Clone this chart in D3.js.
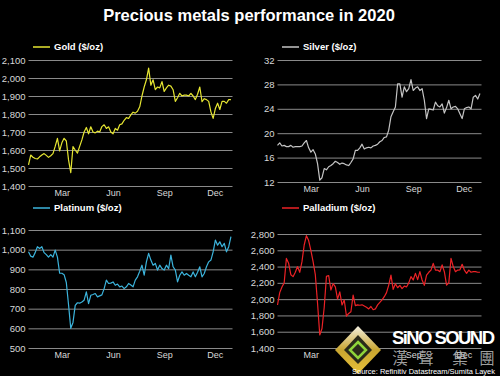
<!DOCTYPE html>
<html>
<head>
<meta charset="utf-8">
<title>Precious metals performance in 2020</title>
<script src="https://d3js.org/d3.v7.min.js"></script>
<style>
  body { margin: 0; background: #000; }
  svg { display: block; font-family: "Liberation Sans", Arial, sans-serif; }
  .grid line { stroke: #8a8a8a; stroke-width: 1; }
  .grid text, .xaxis text { fill: #d8d8d8; }
</style>
</head>
<body>
<div id="chart"></div>
<script>
// sampled every 4 days through 2020
var dates = d3.timeDay.range(new Date(2020, 0, 1), new Date(2021, 0, 1), 4);

var gold = [1517, 1572, 1560, 1553, 1550, 1562, 1572, 1580, 1570, 1559, 1568, 1580, 1620, 1665, 1595, 1640,
  1665, 1650, 1545, 1474, 1619, 1600, 1583, 1620, 1656, 1700, 1725, 1690, 1729, 1700, 1695, 1705,
  1700, 1730, 1740, 1720, 1729, 1700, 1690, 1720, 1710, 1740, 1745, 1765, 1780, 1775, 1795, 1810,
  1805, 1815, 1840, 1900, 1950, 1990, 2055, 1960, 1990, 1935, 1950, 1945, 1980, 1925, 1945, 1960,
  1955, 1935, 1870, 1890, 1915, 1900, 1905, 1905, 1900, 1915, 1900, 1880, 1910, 1950, 1868, 1885,
  1880, 1870, 1812, 1776, 1830, 1860, 1825, 1870, 1870, 1860, 1880, 1880];

var silver = [18.0, 18.4, 17.9, 18.0, 17.8, 17.8, 18.0, 17.7, 17.8, 17.8, 17.8, 17.9, 18.4, 18.8, 17.6, 16.9,
  17.3, 16.6, 15.0, 12.3, 12.7, 14.2, 14.0, 14.5, 14.7, 15.0, 15.4, 15.2, 14.9, 15.1, 15.0, 14.8,
  14.7, 15.2, 15.8, 17.2, 17.2, 17.6, 18.2, 17.4, 17.6, 17.7, 17.6, 17.9, 18.0, 18.2, 18.6, 18.8,
  19.3, 19.4, 20.5, 22.7, 23.5, 24.3, 28.1, 28.1, 25.9, 27.6, 26.8, 27.3, 28.8, 27.0, 27.4, 27.6,
  27.0, 27.3, 25.4, 22.4, 24.0, 23.9, 23.8, 25.1, 24.5, 24.3, 24.8, 23.3, 24.2, 25.4, 24.0, 24.3,
  24.4, 24.0, 23.2, 22.4, 24.0, 24.2, 24.3, 24.0, 25.9, 26.2, 25.6, 26.5];

var platinum = [989, 967, 962, 985, 1015, 1006, 1015, 985, 975, 962, 975, 962, 998, 962, 880, 880,
  873, 833, 720, 600, 630, 717, 730, 728, 734, 743, 785, 726, 768, 772, 777, 760,
  765, 770, 802, 845, 828, 830, 836, 819, 825, 811, 815, 802, 811, 828, 820, 811,
  845, 862, 890, 921, 870, 938, 981, 947, 921, 930, 896, 921, 904, 896, 921, 904,
  972, 913, 896, 836, 870, 887, 870, 879, 870, 862, 887, 862, 885, 913, 862, 879,
  913, 938, 947, 989, 1049, 1023, 1040, 1015, 1032, 989, 1015, 1066];

var palladium = [1928, 2080, 2150, 2200, 2500, 2440, 2300, 2276, 2330, 2400, 2330, 2460, 2665, 2780, 2720, 2600,
  2460, 2300, 1950, 1560, 1640, 1900, 2280, 2290, 2112, 2190, 2150, 2000, 2090, 1928, 1990, 1790,
  1825, 1845, 2050, 1920, 1930, 1925, 1930, 1915, 1900, 1880, 1910, 1870, 1880, 1930, 1960, 1990,
  2030, 2080, 2173, 2296, 2120, 2190, 2140, 2170, 2130, 2160, 2150, 2200, 2276, 2235, 2317, 2240,
  2337, 2235, 2170, 2296, 2330, 2357, 2440, 2357, 2357, 2337, 2420, 2337, 2173, 2200, 2500, 2400,
  2337, 2357, 2360, 2428, 2357, 2317, 2357, 2330, 2337, 2337, 2330, 2330];

var monthTicks = [new Date(2020, 2, 1), new Date(2020, 5, 1), new Date(2020, 8, 1), new Date(2020, 11, 1)];
var goldTicks = [1400, 1500, 1600, 1700, 1800, 1900, 2000, 2100];
var silverTicks = [12, 16, 20, 24, 28, 32];
var platinumTicks = [500, 600, 700, 800, 900, 1000, 1100];
var palladiumTicks = [1400, 1600, 1800, 2000, 2200, 2400, 2600, 2800];

var W = 500, H = 376;
var svg = d3.select('#chart').append('svg')
    .attr('width', W)
    .attr('height', H);

svg.append('rect').attr('width', W).attr('height', H).attr('fill', '#000');

svg.append('text')
    .attr('x', 249)
    .attr('y', 21)
    .attr('text-anchor', 'middle')
    .attr('fill', '#fff')
    .attr('font-size', 16.5)
    .attr('font-weight', 'bold')
    .text('Precious metals performance in 2020');

var panels = [
  {name: 'Gold ($/oz)', values: gold, color: '#e6e632', ticks: goldTicks, domain: [1400, 2100],
    x0: 28.5, x1: 231.5, y0: 186, y1: 60, legendY: 47, fmt: d3.format(',')},
  {name: 'Silver ($/oz)', values: silver, color: '#c4c4c4', ticks: silverTicks, domain: [12, 32],
    x0: 277.5, x1: 480.5, y0: 182, y1: 60, legendY: 47, fmt: d3.format('d')},
  {name: 'Platinum ($/oz)', values: platinum, color: '#3cb4dc', ticks: platinumTicks, domain: [500, 1100],
    x0: 28.5, x1: 231.5, y0: 348, y1: 230, legendY: 208, fmt: d3.format(',')},
  {name: 'Palladium ($/oz)', values: palladium, color: '#ec2226', ticks: palladiumTicks, domain: [1400, 2800],
    x0: 277.5, x1: 480.5, y0: 348, y1: 234, legendY: 208, fmt: d3.format(',')}
];

panels.forEach(function(p) {
  var x = d3.scaleTime()
      .domain([new Date(2020, 0, 1), new Date(2020, 11, 31)])
      .range([p.x0, p.x1]);
  var y = d3.scaleLinear().domain(p.domain).range([p.y0, p.y1]);

  var g = svg.append('g');

  g.append('g')
      .attr('class', 'grid')
      .attr('transform', 'translate(' + p.x0 + ',0)')
      .call(d3.axisLeft(y)
        .tickValues(p.ticks)
        .tickFormat(p.fmt)
        .tickSizeInner(-(p.x1 - p.x0 + 1))
        .tickSizeOuter(0)
        .tickPadding(3))
      .call(function(a) {
        a.select('.domain').remove();
        a.selectAll('text').attr('font-size', 9.5);
      });

  g.append('g')
      .attr('class', 'xaxis')
      .attr('transform', 'translate(0,' + p.y0 + ')')
      .call(d3.axisBottom(x)
        .tickValues(monthTicks)
        .tickFormat(d3.timeFormat('%b'))
        .tickSize(0)
        .tickPadding(4))
      .call(function(a) {
        a.select('.domain').remove();
        a.selectAll('text').attr('font-size', 9);
      });

  var line = d3.line()
      .x(function(d, i) { return x(dates[i]); })
      .y(function(d) { return y(d); });

  g.append('path')
      .datum(p.values)
      .attr('fill', 'none')
      .attr('stroke', p.color)
      .attr('stroke-width', 1.2)
      .attr('stroke-linejoin', 'round')
      .attr('d', line);

  // legend
  var lx = p.x0 + 4.5;
  g.append('line')
      .attr('x1', lx).attr('x2', lx + 17)
      .attr('y1', p.legendY).attr('y2', p.legendY)
      .attr('stroke', p.color)
      .attr('stroke-width', 1.5);
  g.append('text')
      .attr('x', lx + 21)
      .attr('y', p.legendY + 3.3)
      .attr('fill', '#fff')
      .attr('font-size', 9.5)
      .attr('font-weight', 'bold')
      .text(p.name);
});

// watermark
var defs = svg.append('defs');
var grad = defs.append('linearGradient')
    .attr('id', 'logoGrad')
    .attr('x1', 0).attr('y1', 0).attr('x2', 0).attr('y2', 1);
grad.append('stop').attr('offset', '0%').attr('stop-color', '#f4f0e0');
grad.append('stop').attr('offset', '50%').attr('stop-color', '#c9a630');
grad.append('stop').attr('offset', '100%').attr('stop-color', '#e8c23a');

var logo = svg.append('g').attr('transform', 'translate(358,350)');
logo.append('path')
    .attr('d', 'M0,-24 L23,0 L0,24 L-23,0 Z')
    .attr('fill', 'url(#logoGrad)');
logo.append('path')
    .attr('d', 'M0,-15 L14,0 L0,14 L-14,0 Z')
    .attr('fill', '#2a2a1a');
logo.append('path')
    .attr('d', 'M0,-8 L8,0 L0,8 L-8,0 Z')
    .attr('fill', 'none')
    .attr('stroke', '#8fd43a')
    .attr('stroke-width', 2.5);

svg.append('text')
    .attr('x', 392)
    .attr('y', 344)
    .attr('fill', '#fff')
    .attr('font-size', 18.5)
    .attr('font-weight', 'bold')
    .attr('textLength', 103)
    .text('SiNO SOUND');

var hanzi = ['漢', '聲', '集', '團'];
var hx = [400, 426, 460, 487];
svg.selectAll('.hanzi')
    .data(hanzi)
    .enter().append('text')
    .attr('class', 'hanzi')
    .attr('x', function(d, i) { return hx[i]; })
    .attr('y', 364)
    .attr('text-anchor', 'middle')
    .attr('fill', '#bdbdbd')
    .attr('fill-opacity', 0.85)
    .attr('font-family', '"Noto Sans CJK TC", sans-serif')
    .attr('font-size', 15.5)
    .text(function(d) { return d; });

svg.append('text')
    .attr('x', 495)
    .attr('y', 374)
    .attr('text-anchor', 'end')
    .attr('fill', '#fff')
    .attr('font-size', 7.5)
    .text('Source: Refinitiv Datastream/Sumita Layek');
</script>
</body>
</html>
